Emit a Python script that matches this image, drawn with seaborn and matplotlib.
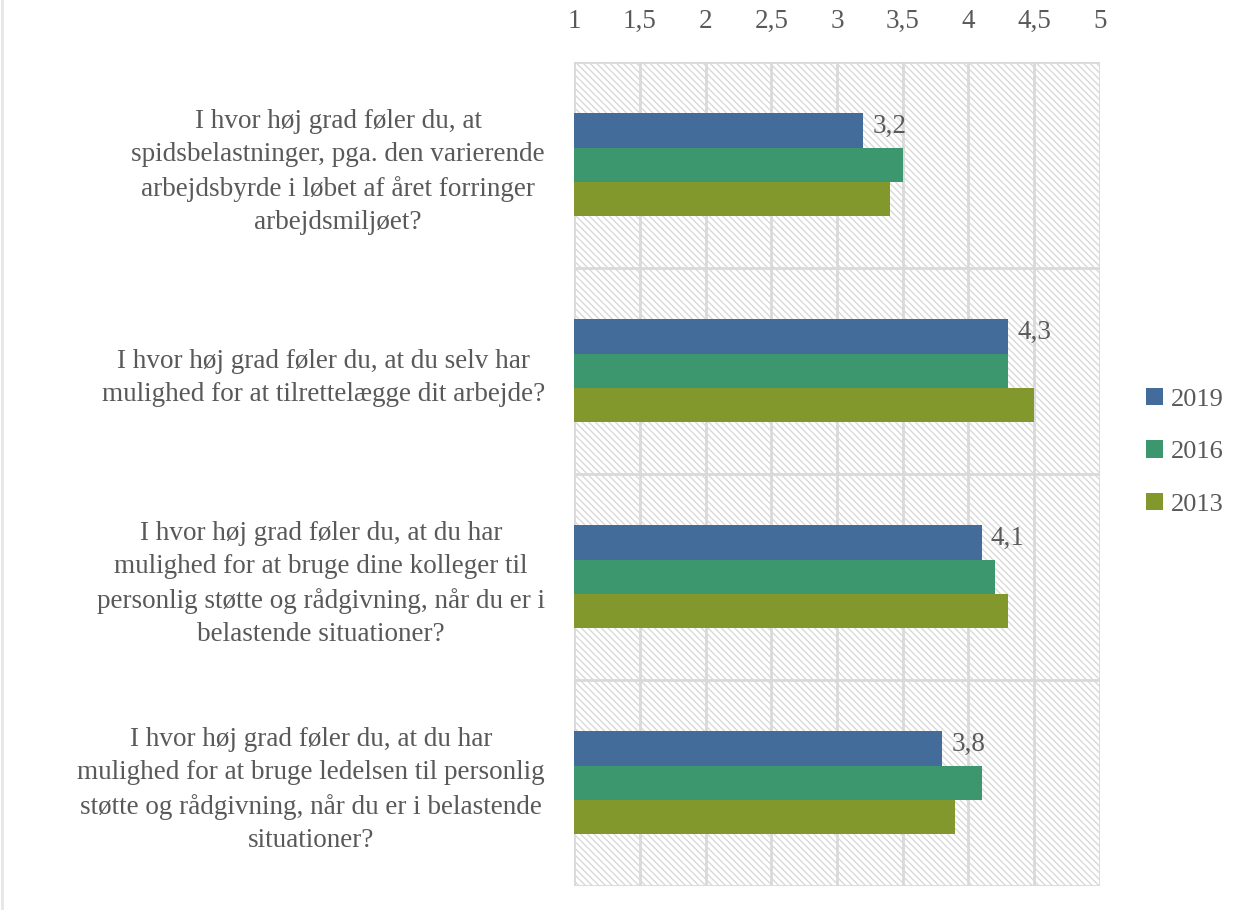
import numpy as np
import pandas as pd
import matplotlib
matplotlib.use("Agg")
import matplotlib.pyplot as plt
import seaborn as sns
from matplotlib.patches import Rectangle

# ================= DATA =================
questions = [
    "I hvor høj grad føler du, at\nspidsbelastninger, pga. den varierende\narbejdsbyrde i løbet af året forringer\narbejdsmiljøet?",
    "I hvor høj grad føler du, at du selv har\nmulighed for at tilrettelægge dit arbejde?",
    "I hvor høj grad føler du, at du har\nmulighed for at bruge dine kolleger til\npersonlig støtte og rådgivning, når du er i\nbelastende situationer?",
    "I hvor høj grad føler du, at du har\nmulighed for at bruge ledelsen til personlig\nstøtte og rådgivning, når du er i belastende\nsituationer?",
]
years = ["2019", "2016", "2013"]
vals_2019 = [3.2, 4.3, 4.1, 3.8]
vals_2016 = [3.5, 4.3, 4.2, 4.1]
vals_2013 = [3.4, 4.5, 4.3, 3.9]
xticks = [1, 1.5, 2, 2.5, 3, 3.5, 4, 4.5, 5]

colors = ["#436C9B", "#3C976F", "#82982C"]
grid_c = "#D9D9D9"
text_c = "#595959"

df = pd.DataFrame({
    "question": questions * 3,
    "year": [y for y in years for _ in questions],
    "value": vals_2019 + vals_2016 + vals_2013,
})

# ================= PLOT =================
sns.set_style("white")
plt.rcParams["font.family"] = ["Liberation Serif", "DejaVu Serif"]
plt.rcParams["hatch.color"] = grid_c
plt.rcParams["hatch.linewidth"] = 1.0

fs = 19.5
fig = plt.figure(figsize=(12.38, 9.10), dpi=100)
ax = fig.add_axes([0.4637, 0.0264, 0.8885 - 0.4637, 0.9319 - 0.0264])

# hatched plot background
ax.add_patch(Rectangle((0, 0), 1, 1, transform=ax.transAxes, facecolor="white",
                       edgecolor=grid_c, hatch="\\\\\\\\\\", lw=0, zorder=0))

sns.barplot(data=df, y="question", x="value", hue="year", hue_order=years,
            palette=colors, width=0.5, orient="h", ax=ax, zorder=3,
            saturation=1, errorbar=None, linewidth=0)

ax.set_xlim(1, 5)
ax.set_ylim(3.5, -0.5)
for t in xticks:
    ax.axvline(t, color=grid_c, lw=2, zorder=1)
for b in [-0.5, 0.5, 1.5, 2.5, 3.5]:
    ax.axhline(b, color=grid_c, lw=2, zorder=1)

ax.xaxis.tick_top()
ax.set_xticks(xticks)
ax.set_xticklabels([f"{t:g}".replace(".", ",") for t in xticks], fontsize=fs, color=text_c)
ax.tick_params(axis="x", length=0, pad=20)
ax.tick_params(axis="y", length=0, pad=21)
for lbl in ax.get_yticklabels():
    lbl.set_fontsize(fs)
    lbl.set_color(text_c)
    lbl.set_multialignment("center")
    lbl.set_linespacing(1.42)
ax.set_xlabel("")
ax.set_ylabel("")
for s in ax.spines.values():
    s.set_visible(False)

# data labels for 2019 only
first = ax.containers[0]
for rect, v in zip(first, vals_2019):
    ax.text(v + 0.07, rect.get_y() + rect.get_height() * 0.5 - 0.02,
            f"{v:.1f}".replace(".", ","), fontsize=fs, color=text_c,
            va="center", ha="left", zorder=4)

leg = ax.legend(loc="center left", bbox_to_anchor=(1.063, 0.527), frameon=False,
                fontsize=19, handlelength=0.65, handleheight=0.65, handletextpad=0.3,
                labelspacing=1.12, borderpad=0)
for t in leg.get_texts():
    t.set_color(text_c)

fig.add_artist(plt.Line2D([0.002, 0.002], [0, 1], color="#E6E6E6", lw=2))

fig.savefig("out.png", dpi=100, facecolor="white")
